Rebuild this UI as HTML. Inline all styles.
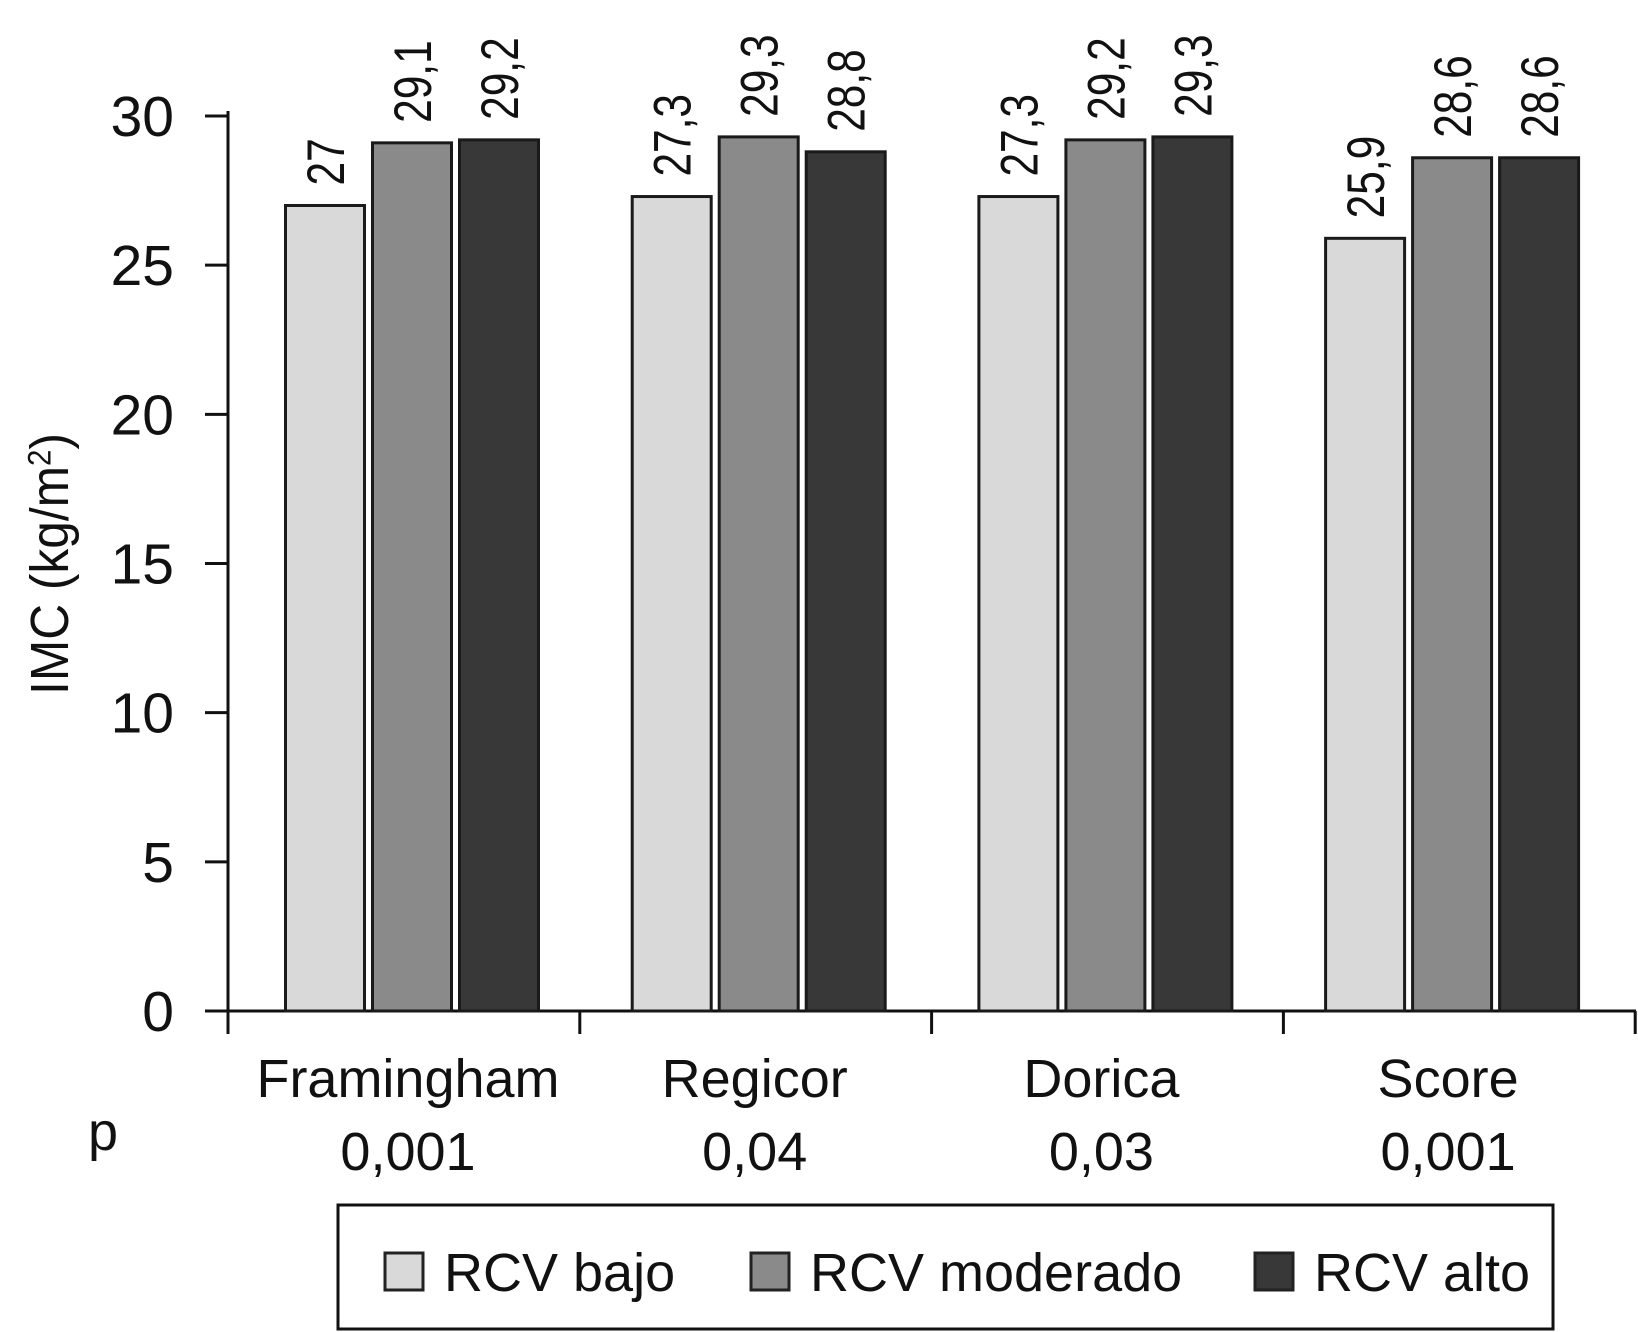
<!DOCTYPE html>
<html><head><meta charset="utf-8"><style>
html,body{margin:0;padding:0;background:#fff;}
svg{display:block;font-family:"Liberation Sans",Arial,sans-serif;}
</style></head><body>
<svg id="chart" width="1638" height="1332" viewBox="0 0 1638 1332">
<g id="axes"></g>
<g id="bars"></g>
<g id="labels"></g>
<text transform="translate(68,564) rotate(-90) scale(0.92,1)" text-anchor="middle" font-size="54" fill="#111">IMC (kg/m<tspan baseline-shift="super" font-size="32">2</tspan>)</text>
<text x="103" y="1150" text-anchor="middle" font-size="54" fill="#111">p</text>
<g>
<rect x="338" y="1205" width="1215" height="124" fill="#fff" stroke="#111" stroke-width="3"/>
<g><rect x="385" y="1253" width="38" height="37" fill="#d9d9d9" stroke="#222" stroke-width="3"/><text x="444" y="1291" font-size="54" fill="#111">RCV bajo</text></g>
<g><rect x="751" y="1253" width="38" height="37" fill="#8a8a8a" stroke="#222" stroke-width="3"/><text x="810" y="1291" font-size="54" fill="#111">RCV moderado</text></g>
<g><rect x="1255" y="1253" width="38" height="37" fill="#383838" stroke="#222" stroke-width="3"/><text x="1314" y="1291" font-size="54" fill="#111">RCV alto</text></g>
</g>
</svg>
<script>
const categories = ["Framingham","Regicor","Dorica","Score"];
const pValues = ["0,001","0,04","0,03","0,001"];
const bajo = [27, 27.3, 27.3, 25.9];
const moderado = [29.1, 29.3, 29.2, 28.6];
const alto = [29.2, 28.8, 29.3, 28.6];
const valueLabels = [["27","27,3","27,3","25,9"],["29,1","29,3","29,2","28,6"],["29,2","28,8","29,3","28,6"]];
const yTicks = [0,5,10,15,20,25,30];

const NS = "http://www.w3.org/2000/svg";
const y0 = 1011, yTop = 116, yMax = 30;
function yScale(v){ return y0 - (v / yMax) * (y0 - yTop); }
function groupCenter(i){ return 412 + i * 346.7; }
const barW = 79, step = 87;
const colors = ["#d9d9d9","#8a8a8a","#383838"];
const series = [bajo, moderado, alto];
const seriesNames = ["bajo","moderado","alto"];
function mk(tag, attrs, parent){ const e=document.createElementNS(NS,tag); for(const k in attrs) e.setAttribute(k,attrs[k]); parent.appendChild(e); return e; }

const axes = document.getElementById('axes');
let l = mk('line',{x1:228,y1:yTop-5,x2:228,y2:y0,stroke:'#111','stroke-width':3},axes);


l = mk('line',{x1:228,y1:y0,x2:1636,y2:y0,stroke:'#111','stroke-width':3},axes);


yTicks.forEach(t=>{
  const y=yScale(t);
  const tk=mk('line',{x1:205,y1:y,x2:228,y2:y,stroke:'#111','stroke-width':3},axes);
  
  
  const tx=mk('text',{x:174,y:y+20,'text-anchor':'end','font-size':57,fill:'#111'},axes);
  tx.textContent=t;
  
  
});
for(let i=0;i<=categories.length;i++){
  const x=228+i*351.8;
  const tk=mk('line',{x1:x,y1:y0,x2:x,y2:1034,stroke:'#111','stroke-width':3},axes);
  
  
}
categories.forEach((c,i)=>{
  const cx=groupCenter(i);
  const t=mk('text',{x:cx-4,y:1097,'text-anchor':'middle','font-size':54,fill:'#111'},axes);
  t.textContent=c;
  
  
  const p=mk('text',{x:cx-4,y:1170,'text-anchor':'middle','font-size':54,fill:'#111'},axes);
  p.textContent=pValues[i];
  
  
});
const barsG=document.getElementById('bars'), labG=document.getElementById('labels');
series.forEach((s,si)=>{
  s.forEach((v,i)=>{
    const cx=groupCenter(i)+(si-1)*step;
    const top=yScale(v);
    const r=mk('rect',{x:cx-barW/2,y:top,width:barW,height:y0-top,fill:colors[si],stroke:'#1a1a1a','stroke-width':3},barsG);
    
    
    const t=mk('text',{transform:`translate(${cx+19},${top-20}) rotate(-90) scale(0.8,1)`,'font-size':53,fill:'#111'},labG);
    t.textContent=valueLabels[si][i];
    
    
  });
});
</script>
</body></html>
